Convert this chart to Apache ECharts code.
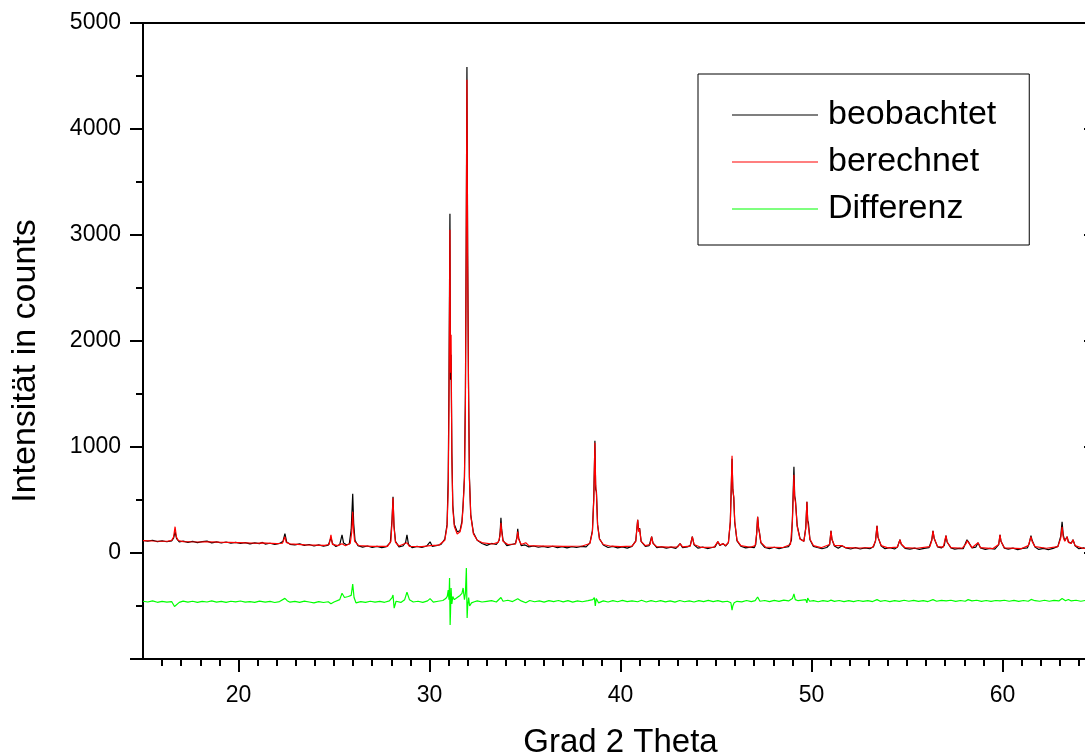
<!DOCTYPE html>
<html>
<head>
<meta charset="utf-8">
<script src="https://cdn.jsdelivr.net/npm/echarts@6.0.0/dist/echarts.min.js"></script>
<style>
html,body{margin:0;padding:0;background:#fff;}
#chart{width:1085px;height:756px;}
</style>
</head>
<body>
<div id="chart"></div>
<script>
// ---- data (2θ in degrees, intensity in counts) ----
const seriesNames = ['beobachtet', 'berechnet', 'Differenz'];
const xTickValues = [20, 30, 40, 50, 60];

const observed = [
[15.0,118],[15.25,112],[15.5,120],[15.75,108],[16.0,115],[16.25,106],[16.5,114],[16.6,140],[16.68,200],[16.76,135],[16.9,104],
[17.1,112],[17.35,100],[17.6,110],[17.85,98],[18.1,108],[18.35,112],[18.6,96],[18.85,105],[19.1,94],[19.35,104],[19.6,92],[19.85,100],
[20.1,90],[20.35,98],[20.6,86],[20.85,96],[21.1,88],[21.25,100],[21.4,84],[21.65,92],[21.9,80],[22.15,90],[22.33,110],[22.43,182],[22.52,105],
[22.7,82],[22.95,76],[23.2,86],[23.45,72],[23.7,80],[23.95,66],[24.2,76],[24.45,64],[24.7,74],[24.84,144],[24.92,90],[25.1,62],[25.3,80],
[25.42,172],[25.5,95],[25.65,78],[25.8,85],[25.9,220],[25.98,559],[26.03,280],[26.1,120],[26.25,70],[26.5,56],[26.75,66],[27.0,52],[27.25,62],
[27.5,50],[27.75,60],[27.95,100],[28.04,320],[28.09,531],[28.14,260],[28.22,110],[28.4,58],[28.6,66],[28.75,100],[28.82,172],[28.9,80],
[29.1,50],[29.35,62],[29.6,52],[29.85,66],[30.03,106],[30.15,62],[30.4,72],[30.6,80],[30.8,130],[30.92,270],[30.98,700],[31.02,1600],
[31.07,3200],[31.1,1635],[31.13,1871],[31.17,950],[31.22,450],[31.3,270],[31.45,200],[31.6,210],[31.7,300],[31.76,460],[31.83,720],
[31.88,1500],[31.92,2900],[31.96,4586],[32.0,2800],[32.04,1650],[32.09,720],[32.16,360],[32.3,190],[32.5,120],[32.75,90],[33.0,72],
[33.25,90],[33.5,80],[33.65,120],[33.7,200],[33.74,333],[33.78,220],[33.85,120],[34.05,70],[34.3,80],[34.5,88],[34.58,150],[34.62,229],
[34.67,140],[34.8,70],[35.0,76],[35.2,58],[35.45,66],[35.7,54],[35.95,62],[36.2,52],[36.45,64],[36.7,50],[36.95,60],[37.2,48],[37.45,60],
[37.7,52],[37.95,62],[38.2,58],[38.4,95],[38.53,210],[38.6,520],[38.66,1059],[38.7,600],[38.74,580],[38.8,270],[38.9,135],[39.1,75],
[39.35,52],[39.6,62],[39.85,48],[40.1,58],[40.35,46],[40.6,62],[40.8,115],[40.9,314],[40.95,210],[41.0,235],[41.08,110],[41.3,62],
[41.5,70],[41.63,154],[41.7,95],[41.9,50],[42.15,58],[42.4,46],[42.65,56],[42.9,44],[43.12,88],[43.25,50],[43.5,58],[43.65,70],[43.76,154],
[43.85,78],[44.05,46],[44.3,56],[44.55,42],[44.8,52],[44.95,58],[45.1,107],[45.2,72],[45.37,88],[45.5,66],[45.65,98],[45.75,290],[45.84,889],
[45.88,600],[45.93,520],[45.98,290],[46.1,115],[46.3,64],[46.55,48],[46.8,56],[47.0,50],[47.08,80],[47.13,190],[47.18,342],[47.23,235],
[47.27,200],[47.35,95],[47.55,52],[47.8,42],[48.05,54],[48.3,40],[48.55,52],[48.8,60],[48.95,120],[49.0,320],[49.08,814],[49.12,540],
[49.16,500],[49.25,260],[49.4,135],[49.6,110],[49.7,240],[49.76,484],[49.8,310],[49.84,283],[49.92,125],[50.1,62],[50.3,52],[50.55,40],
[50.8,52],[50.95,80],[51.02,210],[51.07,130],[51.1,142],[51.2,66],[51.4,44],[51.6,69],[51.8,48],[52.05,38],[52.3,50],[52.55,38],[52.8,48],
[53.05,40],[53.25,60],[53.35,115],[53.43,257],[53.48,150],[53.52,150],[53.65,66],[53.85,40],[54.1,50],[54.35,38],[54.5,56],[54.63,125],
[54.7,82],[54.9,44],[55.15,36],[55.4,46],[55.65,34],[55.9,44],[56.15,50],[56.3,125],[56.36,210],[56.42,140],[56.47,123],[56.6,58],[56.8,48],
[56.95,70],[57.04,163],[57.1,104],[57.15,104],[57.3,48],[57.5,36],[57.75,44],[57.95,42],[58.08,100],[58.14,125],[58.25,95],[58.4,48],
[58.6,55],[58.72,97],[58.85,48],[59.1,34],[59.35,44],[59.6,36],[59.8,78],[59.87,172],[59.92,110],[59.97,100],[60.1,46],[60.3,36],[60.55,46],
[60.8,32],[61.05,44],[61.3,48],[61.4,90],[61.49,163],[61.55,120],[61.7,56],[61.9,34],[62.15,44],[62.4,32],[62.65,44],[62.9,62],[63.05,160],
[63.12,295],[63.18,170],[63.26,115],[63.38,154],[63.45,105],[63.6,92],[63.69,125],[63.8,68],[64.0,40],[64.25,48],[64.5,34],[64.75,44],[65.0,38]
];

const calculated = [
[15.0,116],[15.5,113],[16.0,111],[16.3,112],[16.5,118],[16.6,150],[16.68,248],[16.75,150],[16.85,118],[17.1,108],[17.5,106],[18.0,104],
[18.3,106],[18.4,104],[19.0,102],[20.0,97],[21.0,92],[21.2,95],[21.3,92],[22.0,88],[22.3,92],[22.43,154],[22.5,100],[22.7,86],[23.5,77],
[24.5,72],[24.75,80],[24.84,172],[24.92,82],[25.2,70],[25.42,88],[25.6,69],[25.85,90],[25.93,200],[25.98,389],[26.02,230],[26.08,110],
[26.3,70],[27.0,63],[27.8,62],[27.98,110],[28.04,300],[28.09,521],[28.14,250],[28.22,100],[28.4,66],[28.82,97],[28.95,62],[29.6,61],
[30.03,69],[30.5,75],[30.8,120],[30.92,250],[30.98,600],[31.02,1400],[31.07,3050],[31.1,1700],[31.13,2060],[31.17,900],[31.22,420],
[31.3,250],[31.45,180],[31.6,200],[31.7,280],[31.76,440],[31.83,700],[31.88,1400],[31.92,2800],[31.96,4464],[32.0,2700],[32.04,1600],
[32.09,700],[32.16,350],[32.3,180],[32.5,120],[32.8,95],[33.3,85],[33.6,100],[33.69,160],[33.74,286],[33.78,200],[33.85,110],[34.1,80],
[34.5,85],[34.58,140],[34.62,201],[34.67,130],[34.8,80],[35.04,97],[35.2,70],[36.0,64],[36.5,64],[37.0,62],[38.0,66],[38.4,90],[38.53,200],
[38.6,500],[38.66,1040],[38.7,640],[38.74,560],[38.8,260],[38.9,130],[39.1,80],[39.5,64],[40.0,60],[40.6,64],[40.8,110],[40.9,314],
[40.95,200],[41.0,230],[41.08,110],[41.3,70],[41.55,80],[41.63,154],[41.7,90],[41.9,60],[42.5,56],[43.0,58],[43.12,88],[43.25,57],
[43.65,65],[43.76,154],[43.85,80],[44.2,54],[44.9,55],[45.1,107],[45.2,75],[45.37,88],[45.5,70],[45.65,100],[45.75,300],[45.84,918],
[45.88,600],[45.93,530],[45.98,300],[46.1,120],[46.3,70],[46.8,54],[47.05,70],[47.13,180],[47.18,342],[47.23,230],[47.27,200],[47.35,100],
[47.6,56],[48.5,52],[48.9,80],[49.0,300],[49.08,738],[49.12,520],[49.16,480],[49.25,250],[49.4,130],[49.6,110],[49.7,230],[49.76,484],
[49.8,300],[49.84,283],[49.92,130],[50.1,70],[50.5,50],[50.95,80],[51.02,210],[51.07,130],[51.1,142],[51.2,70],[51.6,69],[51.8,50],
[52.5,47],[53.2,52],[53.35,110],[53.43,257],[53.48,150],[53.52,150],[53.65,70],[54.0,48],[54.5,55],[54.63,125],[54.7,85],[54.9,50],
[55.5,45],[56.2,60],[56.3,120],[56.36,210],[56.42,140],[56.47,123],[56.6,60],[56.9,55],[57.04,163],[57.1,104],[57.15,104],[57.3,50],
[57.9,45],[58.1,90],[58.14,116],[58.25,90],[58.4,50],[58.72,97],[58.85,50],[59.5,42],[59.8,80],[59.87,172],[59.92,110],[59.97,100],
[60.1,48],[61.0,42],[61.35,70],[61.49,154],[61.55,110],[61.7,60],[62.3,45],[62.9,60],[63.05,140],[63.12,248],[63.18,150],[63.26,110],
[63.38,154],[63.45,100],[63.6,90],[63.69,125],[63.8,70],[64.2,45],[65.0,40]
];

const difference = [
[15.0,-455],[15.25,-462],[15.5,-452],[15.75,-465],[16.0,-456],[16.25,-463],[16.5,-458],[16.65,-505],[16.75,-490],[16.9,-466],[17.1,-454],
[17.35,-464],[17.6,-455],[17.85,-466],[18.1,-457],[18.35,-462],[18.6,-452],[18.85,-463],[19.1,-456],[19.35,-466],[19.6,-455],[19.85,-461],
[20.1,-453],[20.35,-464],[20.6,-458],[20.85,-466],[21.1,-454],[21.4,-463],[21.65,-457],[21.9,-467],[22.15,-458],[22.43,-428],[22.55,-450],
[22.7,-464],[22.95,-456],[23.2,-466],[23.45,-454],[23.7,-462],[23.95,-470],[24.2,-458],[24.45,-467],[24.7,-460],[24.84,-478],[25.0,-462],
[25.3,-440],[25.42,-380],[25.55,-420],[25.75,-410],[25.9,-400],[25.98,-293],[26.05,-420],[26.15,-470],[26.4,-458],[26.65,-466],[26.9,-455],
[27.15,-463],[27.4,-456],[27.65,-465],[27.9,-452],[28.04,-420],[28.09,-397],[28.15,-520],[28.25,-455],[28.5,-466],[28.7,-440],[28.82,-369],
[28.95,-440],[29.15,-462],[29.4,-455],[29.65,-466],[29.9,-452],[30.03,-430],[30.2,-463],[30.45,-455],[30.7,-448],[30.85,-430],[30.93,-410],
[30.98,-350],[31.02,-440],[31.05,-236],[31.08,-680],[31.1,-560],[31.13,-330],[31.17,-480],[31.22,-410],[31.3,-440],[31.45,-420],[31.6,-400],
[31.7,-380],[31.76,-330],[31.83,-440],[31.88,-380],[31.93,-142],[31.97,-614],[32.0,-500],[32.05,-420],[32.1,-500],[32.2,-470],[32.35,-460],
[32.5,-452],[32.75,-462],[33.0,-456],[33.25,-450],[33.5,-462],[33.74,-420],[33.85,-455],[34.1,-446],[34.35,-458],[34.62,-432],[34.8,-452],
[35.04,-470],[35.25,-448],[35.5,-460],[35.75,-452],[36.0,-463],[36.25,-449],[36.5,-458],[36.75,-448],[37.0,-461],[37.25,-450],[37.5,-463],
[37.75,-452],[38.0,-460],[38.3,-450],[38.55,-440],[38.63,-420],[38.68,-500],[38.73,-430],[38.85,-470],[39.1,-452],[39.35,-462],[39.6,-450],
[39.85,-460],[40.1,-447],[40.35,-458],[40.6,-452],[40.9,-460],[41.1,-446],[41.35,-462],[41.6,-450],[41.85,-460],[42.1,-449],[42.35,-461],
[42.6,-452],[42.85,-463],[43.1,-448],[43.35,-460],[43.6,-451],[43.85,-462],[44.1,-450],[44.35,-459],[44.6,-447],[44.85,-458],[45.1,-450],
[45.35,-461],[45.6,-455],[45.78,-470],[45.84,-540],[45.88,-500],[45.95,-470],[46.1,-456],[46.35,-461],[46.6,-448],[46.85,-458],[47.05,-450],
[47.18,-415],[47.3,-455],[47.55,-448],[47.8,-459],[48.05,-447],[48.3,-457],[48.55,-445],[48.8,-452],[49.0,-430],[49.08,-385],[49.15,-440],
[49.3,-450],[49.5,-445],[49.7,-440],[49.76,-470],[49.8,-425],[49.9,-455],[50.1,-450],[50.35,-460],[50.6,-450],[50.85,-457],[51.02,-445],
[51.2,-456],[51.45,-448],[51.7,-458],[51.95,-449],[52.2,-459],[52.45,-448],[52.7,-457],[52.95,-450],[53.2,-458],[53.43,-440],[53.6,-456],
[53.85,-448],[54.1,-458],[54.35,-449],[54.6,-456],[54.85,-446],[55.1,-455],[55.35,-447],[55.6,-456],[55.85,-449],[56.1,-458],[56.36,-440],
[56.55,-455],[56.8,-447],[57.05,-452],[57.3,-446],[57.55,-456],[57.8,-448],[58.05,-455],[58.2,-440],[58.4,-452],[58.65,-446],[58.9,-456],
[59.15,-448],[59.4,-457],[59.65,-448],[59.87,-452],[60.1,-446],[60.35,-455],[60.6,-447],[60.85,-456],[61.1,-448],[61.35,-455],[61.5,-438],
[61.7,-450],[61.95,-455],[62.2,-446],[62.45,-455],[62.7,-447],[62.95,-452],[63.12,-430],[63.3,-450],[63.45,-438],[63.6,-452],[63.85,-446],
[64.1,-455],[64.35,-447],[64.6,-454],[64.85,-446],[65.0,-452]
];

// ---- chart ----
const FONT = 'Liberation Sans, Arial, Helvetica, sans-serif';
const chart = echarts.init(document.getElementById('chart'), null, {renderer: 'canvas'});
const axisLineStyle = {color: '#000', width: 2};

const option = {
  animation: false,
  backgroundColor: '#ffffff',
  textStyle: {fontFamily: FONT, color: '#000'},
  grid: {left: 143, top: 23, width: 955, bottom: 97, containLabel: false, outerBoundsMode: 'none'},
  legend: {
    data: seriesNames,
    orient: 'vertical',
    left: 698,
    top: 74,
    padding: [24, 33, 19, 34],
    icon: 'rect',
    itemWidth: 86,
    itemHeight: 1,
    itemGap: 13,
    borderColor: '#000',
    borderWidth: 1,
    backgroundColor: '#fff',
    textStyle: {fontFamily: FONT, fontSize: 34, color: '#000', lineHeight: 34, padding: [0, 0, 0, 5]}
  },
  xAxis: [
    {
      type: 'value', min: 15, max: 65, position: 'bottom',
      name: 'Grad 2 Theta', nameLocation: 'middle', nameGap: 67,
      nameTextStyle: {fontFamily: FONT, fontSize: 33, color: '#000'},
      axisLine: {show: true, onZero: false, lineStyle: axisLineStyle},
      axisTick: {show: true, length: 13, lineStyle: axisLineStyle, customValues: xTickValues},
      minorTick: {show: true, splitNumber: 10, length: 7, lineStyle: axisLineStyle},
      axisLabel: {customValues: xTickValues, fontFamily: FONT, fontSize: 23, color: '#000', margin: 25,
                  formatter: v => (v % 10 === 0 ? String(v) : '')},
      splitLine: {show: false}
    },
    {
      type: 'value', min: 15, max: 65, position: 'top',
      axisLine: {show: true, onZero: false, lineStyle: axisLineStyle},
      axisTick: {show: false}, axisLabel: {show: false}, splitLine: {show: false}
    }
  ],
  yAxis: [
    {
      type: 'value', min: -1000, max: 5000, interval: 1000, position: 'left',
      name: 'Intensität in counts', nameLocation: 'middle', nameGap: 100, nameRotate: 90,
      nameTextStyle: {fontFamily: FONT, fontSize: 34, color: '#000', padding: [0, 40, 0, 0]},
      axisLine: {show: true, onZero: false, lineStyle: axisLineStyle},
      axisTick: {show: true, length: 13, lineStyle: axisLineStyle},
      minorTick: {show: true, splitNumber: 2, length: 7, lineStyle: axisLineStyle},
      axisLabel: {fontFamily: FONT, fontSize: 23, color: '#000', margin: 22,
                  formatter: v => (v < 0 ? '' : String(v))},
      splitLine: {show: false}
    },
    {
      type: 'value', min: -1000, max: 5000, interval: 1000, position: 'right',
      axisLine: {show: true, onZero: false, lineStyle: axisLineStyle},
      axisTick: {show: true, inside: true, length: 14, lineStyle: axisLineStyle},
      axisLabel: {show: false}, splitLine: {show: false}
    }
  ],
  series: [
    {name: seriesNames[0], type: 'line', data: observed, symbol: 'none', showSymbol: false,
     xAxisIndex: 0, yAxisIndex: 0, lineStyle: {color: '#000000', width: 1.2}, itemStyle: {color: '#000000'}, z: 2},
    {name: seriesNames[1], type: 'line', data: calculated, symbol: 'none', showSymbol: false,
     xAxisIndex: 0, yAxisIndex: 0, lineStyle: {color: '#ff0000', width: 1.2}, itemStyle: {color: '#ff0000'}, z: 3},
    {name: seriesNames[2], type: 'line', data: difference, symbol: 'none', showSymbol: false,
     xAxisIndex: 0, yAxisIndex: 0, lineStyle: {color: '#00ff00', width: 1.2}, itemStyle: {color: '#00ff00'}, z: 4}
  ]
};
chart.setOption(option);
</script>
</body>
</html>
